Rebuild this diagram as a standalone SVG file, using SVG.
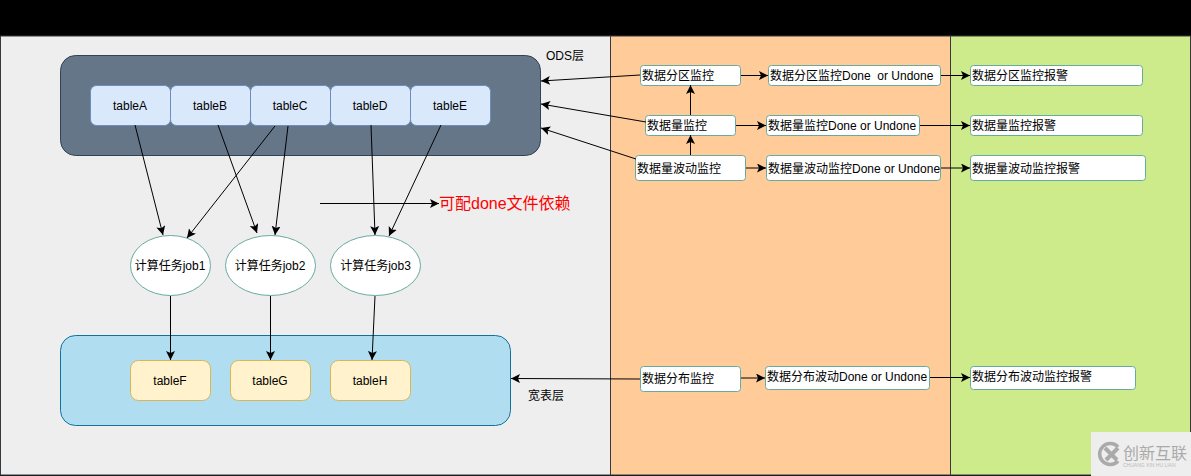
<svg xmlns="http://www.w3.org/2000/svg" width="1191" height="476" viewBox="0 0 1191 476">
<style>
text{font-family:"Liberation Sans","Noto Sans CJK SC",sans-serif;font-size:12px;fill:#000}
.m{text-anchor:middle}
.t{fill:#dae8fc;stroke:#6c8ebf}
.y{fill:#fff2cc;stroke:#d6b656}
.w{fill:#fff;stroke:#67ab9f}
.c line{stroke:#000;stroke-width:1;marker-end:url(#a)}
</style>
<defs><marker id="a" markerUnits="userSpaceOnUse" markerWidth="11" markerHeight="11" refX="9" refY="4.500" orient="auto"><path d="M0 0L9 4.500L0 9L2 4.500Z" fill="#000"/></marker></defs>
<rect width="1191" height="476" fill="#000"/>
<g id="bands">
<rect x="0.500" y="36" width="610" height="439" fill="#eee" stroke="#36393d"/>
<rect x="610.500" y="36" width="340" height="439" fill="#ffcc99" stroke="#36393d"/>
<rect x="950.500" y="36" width="240" height="439" fill="#cdeb8b" stroke="#36393d"/>
</g>
<g id="ods"><rect x="60.500" y="55.500" width="480" height="100" rx="15" fill="#647687" stroke="#314354"/></g>
<g id="tableA"><rect class="t" x="90.500" y="85.500" width="80" height="40" rx="6"/><text class="m" x="130" y="110">tableA</text></g>
<g id="tableB"><rect class="t" x="170.500" y="85.500" width="80" height="40" rx="6"/><text class="m" x="210" y="110">tableB</text></g>
<g id="tableC"><rect class="t" x="250.500" y="85.500" width="80" height="40" rx="6"/><text class="m" x="290" y="110">tableC</text></g>
<g id="tableD"><rect class="t" x="330.500" y="85.500" width="80" height="40" rx="6"/><text class="m" x="370" y="110">tableD</text></g>
<g id="tableE"><rect class="t" x="410.500" y="85.500" width="80" height="40" rx="6"/><text class="m" x="450" y="110">tableE</text></g>
<g id="wide"><rect x="60.500" y="335.500" width="450" height="90" rx="15" fill="#b1ddf0" stroke="#10739e"/></g>
<g id="tableF"><rect class="y" x="130.500" y="360.500" width="80" height="40" rx="8"/><text class="m" x="170" y="385">tableF</text></g>
<g id="tableG"><rect class="y" x="230.500" y="360.500" width="80" height="40" rx="8"/><text class="m" x="270" y="385">tableG</text></g>
<g id="tableH"><rect class="y" x="330.500" y="360.500" width="80" height="40" rx="8"/><text class="m" x="370" y="385">tableH</text></g>
<g id="job1"><ellipse class="w" cx="170.500" cy="265.500" rx="40" ry="30"/><text class="m" x="170" y="270">计算任务job1</text></g>
<g id="job2"><ellipse class="w" cx="270.500" cy="265.500" rx="45" ry="30"/><text class="m" x="270" y="270">计算任务job2</text></g>
<g id="job3"><ellipse class="w" cx="375.500" cy="265.500" rx="45" ry="30"/><text class="m" x="375.500" y="270">计算任务job3</text></g>
<g id="labels">
<text x="546" y="60">ODS层</text>
<text x="528" y="400">宽表层</text>
<text x="439" y="209" style="font-size:16px;fill:#f00">可配done文件依赖</text>
</g>
<g id="m1"><rect class="w" x="640.500" y="65.500" width="100" height="20" rx="3"/><text x="642" y="80">数据分区监控</text></g>
<g id="m2"><rect class="w" x="768.500" y="65.500" width="172" height="20" rx="3"/><text x="770" y="80" xml:space="preserve">数据分区监控Done  or Undone</text></g>
<g id="m3"><rect class="w" x="970.500" y="65.500" width="172" height="20" rx="3"/><text x="972" y="80">数据分区监控报警</text></g>
<g id="m4"><rect class="w" x="645.500" y="115.500" width="90" height="20" rx="3"/><text x="647" y="130">数据量监控</text></g>
<g id="m5"><rect class="w" x="766.500" y="115.500" width="153" height="20" rx="3"/><text x="768" y="130">数据量监控Done or Undone</text></g>
<g id="m6"><rect class="w" x="970.500" y="115.500" width="172" height="20" rx="3"/><text x="972" y="130">数据量监控报警</text></g>
<g id="m7"><rect class="w" x="635.500" y="155.500" width="110" height="25" rx="3"/><text x="637" y="173">数据量波动监控</text></g>
<g id="m8"><rect class="w" x="766.500" y="155.500" width="174" height="25" rx="3"/><text x="768" y="173">数据量波动监控Done or Undone</text></g>
<g id="m9"><rect class="w" x="970.500" y="155.500" width="175" height="25" rx="3"/><text x="972" y="173">数据量波动监控报警</text></g>
<g id="m10"><rect class="w" x="640.500" y="366.500" width="100" height="25" rx="3"/><text x="642" y="383">数据分布监控</text></g>
<g id="m11"><rect class="w" x="765.500" y="366.500" width="164" height="23" rx="3"/><text x="767" y="381">数据分布波动Done or Undone</text></g>
<g id="m12"><rect class="w" x="970.500" y="366.500" width="165" height="23" rx="3"/><text x="972" y="381">数据分布波动监控报警</text></g>
<g id="connectors" class="c">
<line x1="135" y1="125" x2="163" y2="235"/>
<line x1="218" y1="125" x2="257" y2="233"/>
<line x1="275" y1="126" x2="187" y2="238"/>
<line x1="288" y1="126" x2="275" y2="235"/>
<line x1="371" y1="125" x2="375" y2="235"/>
<line x1="441" y1="125" x2="389" y2="236"/>
<line x1="320" y1="203.500" x2="439" y2="203.500"/>
<line x1="170.500" y1="296" x2="170.500" y2="360"/>
<line x1="270.500" y1="296" x2="270.500" y2="360"/>
<line x1="375" y1="296" x2="372" y2="360"/>
<line x1="640" y1="75" x2="541" y2="81"/>
<line x1="646" y1="122" x2="541" y2="104"/>
<line x1="636" y1="159" x2="541" y2="128"/>
<line x1="690.500" y1="115" x2="690.500" y2="85"/>
<line x1="690.500" y1="155" x2="690.500" y2="135"/>
<line x1="741" y1="75.500" x2="768" y2="75.500"/>
<line x1="941" y1="75.500" x2="970" y2="75.500"/>
<line x1="736" y1="125.500" x2="766" y2="125.500"/>
<line x1="920" y1="125.500" x2="970" y2="125.500"/>
<line x1="746" y1="168" x2="766" y2="168"/>
<line x1="941" y1="168" x2="970" y2="168"/>
<line x1="640" y1="379" x2="511" y2="378.500"/>
<line x1="741" y1="378" x2="765" y2="378"/>
<line x1="930" y1="377.500" x2="970" y2="377.500"/>
</g>
<g id="watermark">
<rect x="1091" y="432" width="100" height="44" fill="#eee"/>
<path d="M1118 447A10.500 10.500 0 1 0 1118 461" fill="none" stroke="#aaa" stroke-width="3.500"/>
<path d="M1105 448L1117 460M1118 448L1106 460" stroke="#aaa" stroke-width="4"/>
<text x="1123" y="459" style="font-size:16px;fill:#aaa">创新互联</text>
<text x="1123" y="467" style="font-size:5px;fill:#bbb">CHUANG XIN HU LIAN</text>
</g>
</svg>
